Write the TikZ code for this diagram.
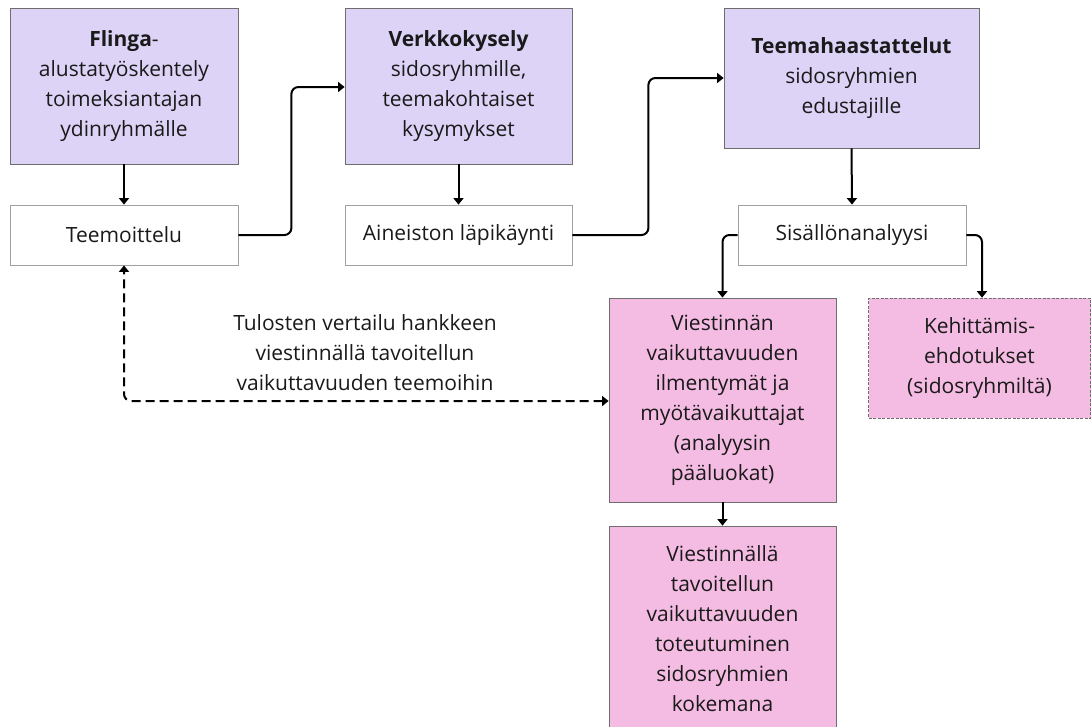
\documentclass[tikz,border=0pt]{standalone}
\usepackage{fontspec}
\setmainfont{Open Sans}
\usetikzlibrary{arrows.meta}
\definecolor{lav}{HTML}{DCD3F6}
\definecolor{pinkb}{HTML}{F5BCE3}
\definecolor{bord}{HTML}{6E6E6E}
\definecolor{wbord}{HTML}{A0A0A0}
\definecolor{txt}{HTML}{1A1A1A}
\tikzset{
  box/.style={draw=bord, line width=0.8pt, align=center, inner sep=0pt, text=txt,
    font=\fontsize{21}{30}\selectfont},
  lavbox/.style={box, fill=lav},
  whitebox/.style={box, draw=wbord, fill=white},
  pinkbox/.style={box, fill=pinkb},
  arr/.style={line width=2pt, rounded corners=7pt, -{Triangle[length=6.5pt,width=10pt]}},
}
\begin{document}
\begin{tikzpicture}[x=1pt,y=-1pt]
\useasboundingbox (0,0) rectangle (1091,726);
\node[lavbox, minimum width=228pt, minimum height=156pt] (A) at (124,86)
  {\textbf{Flinga}-\\alustatyöskentely\\toimeksiantajan\\ydinryhmälle};
\node[whitebox, minimum width=228pt, minimum height=60pt] (A2) at (124,235) {Teemoittelu};
\node[lavbox, minimum width=227pt, minimum height=156pt] (B) at (458.5,86)
  {\textbf{Verkkokysely}\\sidosryhmille,\\teemakohtaiset\\kysymykset};
\node[whitebox, minimum width=227pt, minimum height=60pt] (B2) at (458.5,235) {Aineiston läpikäynti};
\node[lavbox, minimum width=255pt, minimum height=140pt] (C) at (851.5,78)
  {\textbf{Teemahaastattelut}\\sidosryhmien\\edustajille};
\node[whitebox, minimum width=228pt, minimum height=60pt] (C2) at (852,235) {Sisällönanalyysi};
\node[pinkbox, minimum width=227pt, minimum height=204pt] (D) at (722.5,400)
  {Viestinnän\\vaikuttavuuden\\ilmentymät ja\\myötävaikuttajat\\(analyysin\\pääluokat)};
\node[pinkbox, draw=bord, dashed, dash pattern=on 3pt off 1.5pt, line width=0.6pt,
  minimum width=222pt, minimum height=120pt] (E) at (979.5,358)
  {Kehittämis-\\ehdotukset\\(sidosryhmiltä)};
\node[pinkbox, minimum width=227pt, minimum height=206pt] (F) at (722.5,629)
  {Viestinnällä\\tavoitellun\\vaikuttavuuden\\toteutuminen\\sidosryhmien\\kokemana};
\node[align=center, text=txt, font=\fontsize{21}{30}\selectfont] (L) at (365,353)
  {Tulosten vertailu hankkeen\\viestinnällä tavoitellun\\vaikuttavuuden teemoihin};
\draw[arr] (A.south) -- (A2.north);
\draw[arr] (B.south) -- (B2.north);
\draw[arr] (C.south) -- (C2.north);
\draw[arr] (D.south) -- (F.north);
\draw[arr] (A2.east) -- ++(53,0) |- ([yshift=-1pt]B.west);
\draw[arr] (B2.east) -- ++(76,0) |- (C.west);
\draw[arr] (C2.west) -| (D.north);
\draw[arr] (C2.east) -| ([xshift=2.5pt]E.north);
\draw[arr, {Triangle[length=6.5pt,width=10pt]}-{Triangle[length=6.5pt,width=10pt]}, dash pattern=on 9pt off 5pt]
  ([yshift=-1pt]D.west) -| (A2.south);
\end{tikzpicture}
\end{document}
